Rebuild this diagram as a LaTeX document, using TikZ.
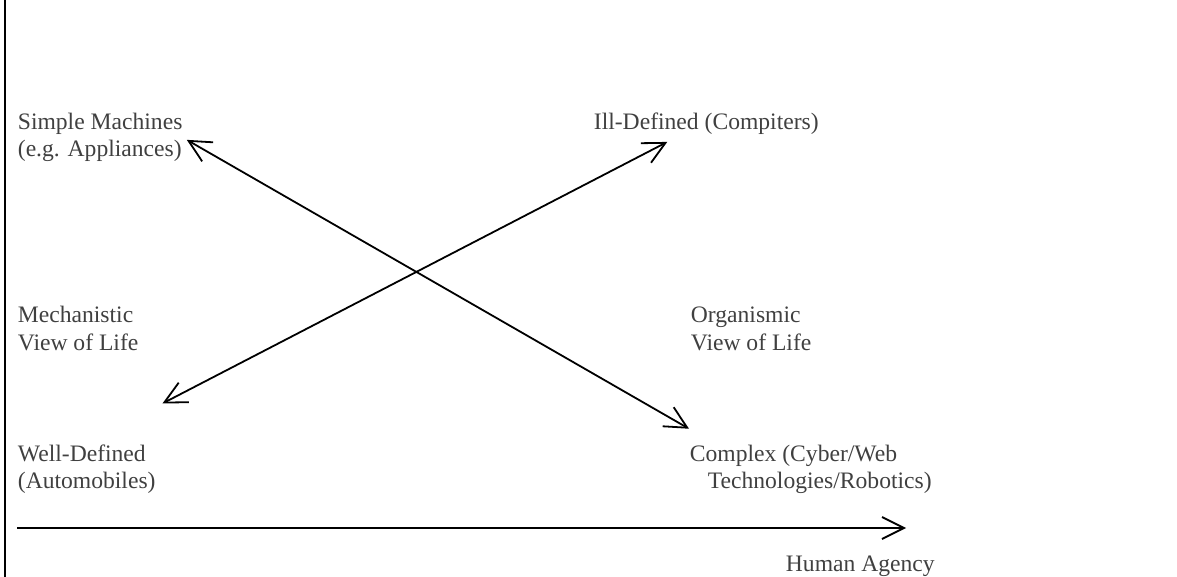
\documentclass[tikz,border=0pt]{standalone}
\usepackage{fontspec}
\setmainfont{Liberation Serif}
\usetikzlibrary{arrows.meta}
\definecolor{labelgray}{RGB}{64,64,64}

\begin{document}
\begin{tikzpicture}[x=0.5pt,y=-0.5pt,>={Straight Barb[length=11pt,width=11pt]},line width=0.9pt,
  corner/.style={anchor=base west,inner sep=0pt,align=left,text=labelgray,font=\fontsize{11.8}{13.5}\selectfont}]
  \useasboundingbox (0,0) rectangle (1177,577);
  \draw[line width=1pt] (4.5,0) -- (4.5,577);

  \node[corner] (simple)  at (17,157)  {Simple Machines\\(e.g. Appliances)};
  \node[corner] (ill)     at (593,130) {Ill-Defined (Compiters)};
  \node[corner] (mech)    at (17,350)  {Mechanistic\\View of Life};
  \node[corner] (organ)   at (690,350) {Organismic\\View of Life};
  \node[corner] (well)    at (17,488)  {Well-Defined\\(Automobiles)};
  \node[corner] (complex) at (689,488) {Complex (Cyber/Web\\\hspace*{0.76em}Technologies/Robotics)};
  \node[corner] (human)   at (785,571) {Human Agency};

  \coordinate (axisstart) at (17,528);
  \coordinate (axisend)   at (906,528);

  \draw[<->] ([shift={(3.5,2)}]simple.east) -- ([shift={(0,-15)}]complex.north west);
  \draw[<->] ([shift={(6,-40)}]well.north east) -- ([shift={(-39,6)}]ill.south);
  \draw[->]  (axisstart) -- (axisend);
\end{tikzpicture}
\end{document}
